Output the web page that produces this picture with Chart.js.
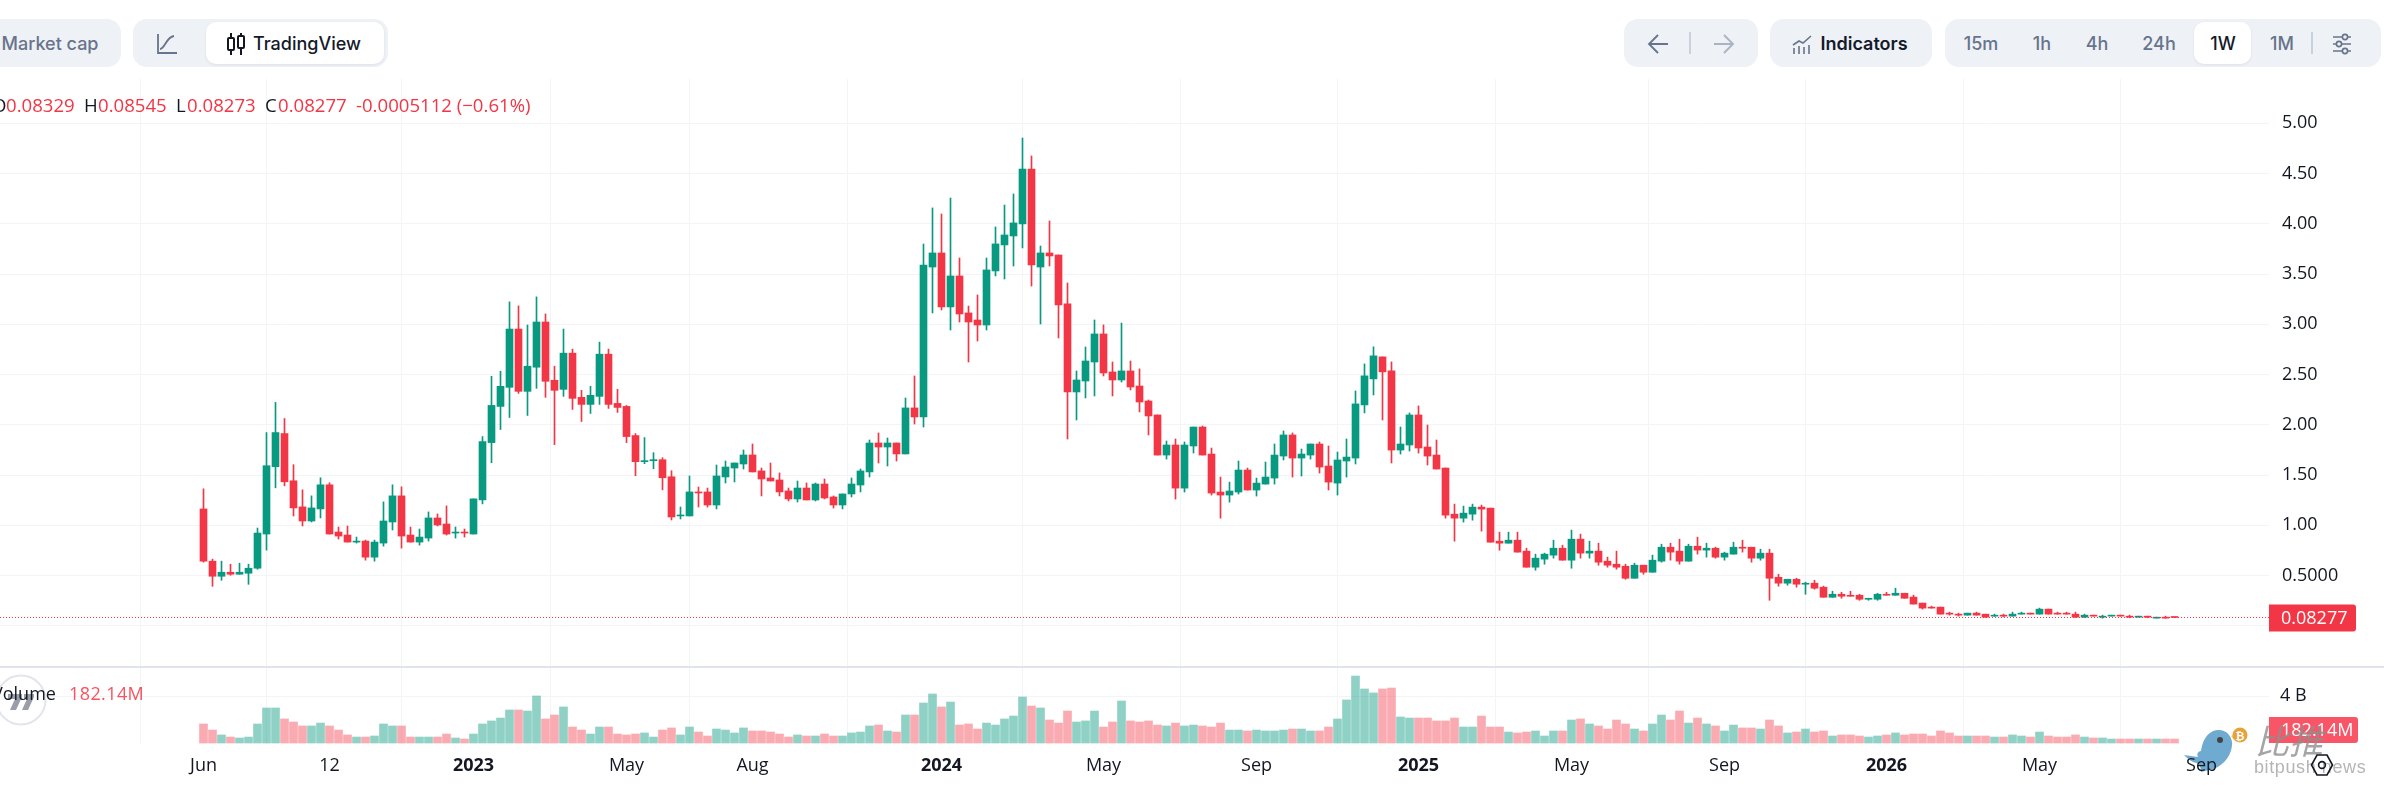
<!DOCTYPE html>
<html><head><meta charset="utf-8">
<script src="https://cdn.jsdelivr.net/npm/chart.js@4"></script>
<style>
html,body{margin:0;padding:0;background:#fff;width:2384px;height:795px;overflow:hidden}
#root{position:relative;width:2384px;height:795px;overflow:hidden;font-family:Inter,sans-serif}
.a{position:absolute}
canvas{position:absolute;left:0;display:block}
.grp{position:absolute;top:19px;height:48px;background:#eef1f5;border-radius:14px}
.wht{position:absolute;top:22px;height:42px;background:#fff;border-radius:10px;box-shadow:0 1px 3px rgba(30,40,60,.08)}
.btn{position:absolute;top:43px;transform:translate(-50%,-50%);font:500 18px Inter,sans-serif;color:#67748b;white-space:nowrap}
.leg{position:absolute;top:104px;transform:translateY(-50%);font:18.6px "Open Sans",sans-serif;white-space:nowrap;color:#f23645}
.k{color:#131722}
.div{position:absolute;top:32px;height:22px;width:2px;background:#c9d1dc}
</style></head><body><div id="root">
<svg class="a" style="left:2181px;top:722px" width="70" height="52" viewBox="0 0 70 52"><path d="M3 33l14 2c-2-4 1-6 3-6 2-14 9-21 18-21 7 0 12 5 13 12 1 12-9 26-23 28l-8 2c0-4-1-7-4-9-4 0-9-4-13-8z" fill="#6fabd0"/><circle cx="39" cy="18" r="3" fill="#444"/><path d="M50 14l6-3-3 7z" fill="#f2d34f"/><circle cx="59" cy="13" r="7.5" fill="#e9a13b"/><text x="59" y="17.5" font-size="11" font-weight="700" fill="#fff" text-anchor="middle" font-family="Liberation Sans">₿</text></svg>
<canvas id="priceCanvas" width="2384" height="587" style="top:79px;width:2384px;height:587px"></canvas>
<div class="a" style="left:0;top:666px;width:2384px;height:2px;background:#e0e3eb"></div>
<canvas id="volumeCanvas" width="2384" height="127" style="top:668px;width:2384px;height:127px"></canvas>

<div class="grp" style="left:-40px;width:161px"></div>
<div class="btn" style="left:50px">Market cap</div>
<div class="grp" style="left:133px;width:255px"></div>
<div class="wht" style="left:206px;width:178px"></div>
<svg class="a" style="left:155px;top:32px" width="24" height="24" viewBox="0 0 24 24" fill="none" stroke="#67748b" stroke-width="1.8"><path d="M3 2v19h19"/><path d="M5 17c5 0 6-12 14-13"/></svg>
<svg class="a" style="left:225px;top:32px" width="22" height="24" viewBox="0 0 22 24" fill="none" stroke="#131722" stroke-width="2"><path d="M6 1v5M6 18v5M16 1v3M16 16v7"/><rect x="3" y="6" width="6" height="12" rx="1"/><rect x="13" y="4" width="6" height="12" rx="1"/></svg>
<div class="btn" style="left:307px;color:#131a2b">TradingView</div>

<div class="grp" style="left:1624px;width:134px"></div>
<svg class="a" style="left:1647px;top:32px" width="24" height="24" viewBox="0 0 24 24" fill="none" stroke="#67748b" stroke-width="1.8"><path d="M21 12H3M11 3l-9 9 9 9"/></svg>
<div class="div" style="left:1689px"></div>
<svg class="a" style="left:1711px;top:32px" width="24" height="24" viewBox="0 0 24 24" fill="none" stroke="#aab3c2" stroke-width="1.8"><path d="M3 12h18M13 3l9 9-9 9"/></svg>
<div class="grp" style="left:1770px;width:162px"></div>
<svg class="a" style="left:1791px;top:32px" width="22" height="24" viewBox="0 0 22 24" fill="none" stroke="#67748b" stroke-width="1.6"><path d="M2 13l6-4 4 2 8-7"/><path d="M3 22v-6M8 22v-8M13 22v-7M18 22v-9"/></svg>
<div class="btn" style="left:1864px;font-weight:600;color:#131a2b">Indicators</div>
<div class="grp" style="left:1945px;width:436px"></div>
<div class="wht" style="left:2194px;width:57px"></div>
<div class="btn" style="left:1981px">15m</div>
<div class="btn" style="left:2042px">1h</div>
<div class="btn" style="left:2097px">4h</div>
<div class="btn" style="left:2159px">24h</div>
<div class="btn" style="left:2223px;color:#131a2b">1W</div>
<div class="btn" style="left:2282px">1M</div>
<div class="div" style="left:2311px"></div>
<svg class="a" style="left:2331px;top:32px" width="22" height="24" viewBox="0 0 22 24" fill="none" stroke="#67748b" stroke-width="1.6"><path d="M2 5h18M2 12h18M2 19h18"/><circle cx="14" cy="5" r="2.6" fill="#eef1f5"/><circle cx="8" cy="12" r="2.6" fill="#eef1f5"/><circle cx="14" cy="19" r="2.6" fill="#eef1f5"/></svg>

<div class="leg k" style="left:-8px">O</div>
<div class="leg" style="left:6px">0.08329</div>
<div class="leg k" style="left:84px">H</div>
<div class="leg" style="left:98px">0.08545</div>
<div class="leg k" style="left:176px">L</div>
<div class="leg" style="left:187px">0.08273</div>
<div class="leg k" style="left:265px">C</div>
<div class="leg" style="left:278px">0.08277</div>
<div class="leg" style="left:356px">-0.0005112 (−0.61%)</div>

<svg class="a" style="left:-4px;top:673px" width="54" height="54" viewBox="0 0 54 54"><circle cx="25" cy="27" r="24.5" fill="#fff" fill-opacity=".6" stroke="#e3e5ec" stroke-width="2"/><path d="M12 21h14v3l-6 13h-6l5-11h-7zM28 21h10v3l-6 13h-6l5-11h-3z" fill="#9a9ea8"/></svg>
<div class="leg k" style="left:-8px;top:693px;font-size:18px">Volume</div>
<div class="leg" style="left:69px;top:693px;color:#f7525f;letter-spacing:.4px;font-size:18px">182.14M</div>

<div class="a" style="left:2255px;top:719px;font:italic 34px 'Noto Sans CJK SC',sans-serif;color:#8f8f8f;opacity:.8;line-height:42px">比推</div>
<div class="a" style="left:2254px;top:757px;font:18px 'Liberation Sans',sans-serif;color:#a8a8a8;opacity:.85;letter-spacing:.6px;line-height:20px;white-space:nowrap">bitpush news</div>
<svg class="a" style="left:2310px;top:753px" width="24" height="24" viewBox="0 0 24 24" fill="none" stroke="#131722" stroke-width="1.6"><path d="M7 2h10l5.500 10L17 22H7L1.500 12z"/><circle cx="12" cy="12" r="3.400"/></svg>
</div>
<script>
const opens=[1.163,.643,.493,.533,.513,.523,.573,.913,1.583,1.913,
1.443,1.183,1.043,1.163,1.403,.933,.903,.833,.843,.683,
.823,1.033,1.293,.903,.833,.873,1.073,1.013,.923,.933,
.913,1.253,1.823,2.183,2.373,2.953,2.333,2.573,3.023,2.443,
2.353,2.713,2.273,2.203,2.283,2.703,2.213,2.183,1.893,1.633,
1.643,1.653,1.483,1.093,1.093,1.332,1.332,1.202,1.481,1.570,
1.610,1.700,1.541,1.471,1.451,1.342,1.262,1.371,1.252,1.411,
1.282,1.202,1.312,1.401,1.531,1.819,1.779,1.819,1.710,2.168,
2.078,3.570,3.710,3.173,3.481,3.113,3.043,2.993,3.531,3.790,
3.879,3.999,4.545,3.570,3.710,3.690,3.203,2.327,2.436,2.625,
2.904,2.526,2.446,2.536,2.386,2.237,2.098,1.699,1.799,1.370,
1.789,1.978,1.709,1.331,1.301,1.331,1.550,1.351,1.410,1.470,
1.689,1.899,1.669,1.699,1.809,1.590,1.420,1.640,1.669,2.198,
2.457,2.676,2.537,1.749,1.799,2.098,1.779,1.699,1.570,1.111,
1.071,1.111,1.181,1.171,.842,.822,.852,.743,.583,.663,
.703,.772,.653,.862,.723,.743,.643,.613,.593,.473,
.603,.533,.643,.782,.743,.643,.792,.753,.772,.683,
.713,.782,.782,.673,.723,.483,.424,.463,.414,.424,
.384,.284,.314,.304,.304,.264,.264,.314,.304,.324,
.286,.226,.186,.186,.126,.116,.106,.126,.116,.096,
.106,.096,.116,.126,.116,.166,.126,.126,.116,.086,
.106,.086,.096,.106,.096,.086,.096,.076,.086,.08329];
const closes=[.643,.493,.533,.513,.533,.573,.923,1.593,1.923,1.433,
1.173,1.043,1.173,1.403,.913,.893,.833,.843,.683,.833,
1.043,1.293,.893,.833,.883,1.073,1.003,.913,.933,.923,
1.263,1.833,2.193,2.383,2.953,2.333,2.583,3.023,2.433,2.343,
2.713,2.263,2.203,2.293,2.703,2.203,2.173,1.883,1.633,1.643,
1.653,1.473,1.083,1.103,1.332,1.322,1.202,1.491,1.580,1.620,
1.700,1.531,1.461,1.441,1.332,1.262,1.371,1.252,1.411,1.272,
1.202,1.312,1.411,1.541,1.819,1.779,1.819,1.710,2.168,2.078,
3.590,3.710,3.173,3.481,3.103,3.023,2.993,3.541,3.800,3.889,
4.009,4.545,3.590,3.710,3.680,3.193,2.327,2.446,2.635,2.904,
2.516,2.446,2.536,2.376,2.227,2.088,1.699,1.799,1.370,1.799,
1.978,1.699,1.321,1.301,1.341,1.550,1.351,1.420,1.480,1.699,
1.899,1.669,1.709,1.809,1.580,1.430,1.650,1.679,2.208,2.487,
2.686,2.527,1.749,1.809,2.098,1.769,1.689,1.560,1.101,1.071,
1.121,1.181,1.161,.832,.822,.852,.733,.583,.673,.713,
.772,.653,.862,.723,.743,.633,.603,.583,.473,.603,
.533,.653,.782,.733,.643,.792,.753,.772,.683,.723,
.782,.772,.673,.723,.473,.424,.463,.414,.424,.374,
.284,.314,.294,.294,.264,.274,.314,.304,.324,.274,
.216,.176,.176,.116,.116,.106,.126,.106,.086,.106,
.096,.116,.126,.116,.166,.116,.116,.116,.086,.106,
.096,.096,.106,.096,.086,.096,.086,.086,.076,.08277];
const highs=[1.363,.663,.643,.613,.623,.613,.973,1.923,2.223,2.063,
1.603,1.353,1.293,1.473,1.423,.983,.993,.883,.853,.853,
1.233,1.403,1.383,.983,.963,1.133,1.113,1.193,.983,.963,
1.263,1.883,2.483,2.533,3.223,3.183,2.993,3.273,3.103,2.583,
2.953,2.753,2.343,2.383,2.823,2.753,2.353,2.193,1.913,1.873,
1.723,1.673,1.543,1.182,1.491,1.381,1.371,1.600,1.640,1.620,
1.750,1.809,1.570,1.620,1.521,1.371,1.441,1.421,1.421,1.461,
1.292,1.312,1.471,1.560,1.849,1.919,1.869,1.819,2.267,2.486,
3.799,4.158,4.098,4.257,3.660,3.182,3.292,3.660,3.969,4.187,
4.297,4.854,4.675,3.779,4.028,3.690,3.411,2.536,2.774,3.043,
2.994,2.625,3.013,2.635,2.556,2.247,2.098,1.839,1.859,1.829,
1.978,1.988,1.769,1.480,1.430,1.640,1.570,1.470,1.630,1.809,
1.939,1.919,1.759,1.809,1.829,1.789,1.729,1.859,2.337,2.606,
2.776,2.676,2.626,1.978,2.118,2.188,1.998,1.849,1.570,1.211,
1.191,1.211,1.201,1.171,.932,.932,.932,.772,.713,.723,
.852,.802,.952,.912,.842,.822,.683,.743,.613,.623,
.603,.703,.812,.822,.862,.812,.882,.822,.782,.733,
.832,.852,.782,.762,.762,.513,.463,.473,.434,.453,
.394,.344,.334,.344,.314,.274,.324,.334,.374,.324,
.306,.226,.196,.186,.136,.126,.126,.136,.116,.116,
.116,.136,.136,.126,.176,.166,.136,.136,.136,.116,
.106,.106,.106,.106,.106,.096,.096,.086,.096,.08545];
const lows=[.633,.393,.453,.503,.513,.413,.563,.753,1.373,1.393,
1.093,.993,1.033,1.073,.913,.863,.833,.823,.653,.643,
.793,.953,.773,.833,.803,.843,.993,.903,.873,.883,
.913,1.213,1.623,1.953,2.073,2.313,2.093,2.363,2.273,1.803,
2.283,2.153,2.033,2.113,2.203,2.163,2.123,1.823,1.493,1.613,
1.563,1.353,1.053,1.063,1.093,1.182,1.182,1.163,1.421,1.431,
1.560,1.531,1.292,1.441,1.292,1.242,1.232,1.252,1.242,1.262,
1.172,1.163,1.282,1.332,1.481,1.620,1.590,1.640,1.710,2.008,
1.978,3.113,3.143,2.943,3.023,2.625,2.834,2.943,3.481,3.451,
3.580,3.760,3.381,3.003,3.580,2.864,1.859,2.048,2.267,2.287,
2.486,2.287,2.426,2.347,2.128,1.899,1.699,1.659,1.261,1.331,
1.719,1.699,1.301,1.071,1.231,1.311,1.351,1.291,1.410,1.410,
1.650,1.480,1.490,1.659,1.520,1.351,1.301,1.480,1.610,2.118,
2.297,2.048,1.620,1.709,1.739,1.719,1.600,1.560,1.071,.842,
1.032,1.051,.942,.832,.752,.822,.733,.583,.553,.613,
.673,.653,.573,.673,.673,.603,.583,.563,.463,.473,
.513,.533,.633,.653,.613,.643,.713,.683,.673,.653,
.713,.733,.633,.653,.254,.394,.404,.384,.314,.364,
.284,.284,.274,.294,.254,.254,.254,.304,.304,.274,
.216,.166,.176,.116,.106,.096,.106,.106,.083,.093,
.09,.096,.116,.116,.116,.116,.116,.116,.083,.083,
.096,.076,.096,.096,.08,.086,.08,.076,.076,.08273];
const volumes=[1.63,1.11,.69,.51,.43,.51,1.63,3.0,3.0,2.06,
1.8,1.46,1.46,1.71,1.46,1.11,.69,.51,.51,.6,
1.63,1.46,1.46,.51,.51,.51,.51,.77,.43,.34,
.77,1.63,1.89,2.14,2.83,2.83,2.74,4.03,2.06,2.4,
3.09,1.37,1.11,.77,1.37,1.37,.77,.69,.77,.86,
.51,1.11,1.29,.69,1.37,.94,.6,1.2,1.11,.86,
1.29,1.03,1.03,.94,.77,.51,.69,.6,.6,.77,
.6,.6,.86,.94,1.46,1.54,1.03,.94,2.4,2.4,
3.43,4.2,3.09,3.51,1.54,1.63,1.2,1.71,1.54,2.06,
2.31,3.94,3.17,3.0,1.97,1.71,2.74,1.8,1.89,2.74,
1.37,1.8,3.6,1.89,1.8,1.89,1.54,1.46,1.71,1.46,
1.54,1.46,1.37,1.71,1.11,1.11,1.03,1.11,1.03,1.03,
1.11,1.2,1.2,1.03,1.03,1.37,2.06,3.69,5.74,4.63,
4.29,4.63,4.71,2.23,2.14,2.14,2.14,1.89,1.89,2.14,
1.37,1.37,2.31,1.37,1.37,.94,.86,.94,1.03,.6,
1.03,1.03,1.97,2.06,1.63,1.46,1.2,1.97,1.63,1.2,
1.03,1.63,2.4,1.97,2.74,1.71,2.14,1.63,1.46,1.03,
1.54,1.29,1.29,1.2,1.97,1.46,.86,.94,1.2,.94,
1.03,.6,.69,.69,.6,.51,.6,.69,.86,.69,
.77,.77,.6,1.03,.86,.6,.6,.6,.6,.51,
.51,.69,.6,.51,.94,.6,.51,.51,.69,.51,
.43,.43,.34,.34,.34,.34,.34,.34,.34,.34];
const timeTickWeeks=[0,14,30,47,61,82,100,117,135,152,169,187,204,222];
const timeTickLabels=["Jun","12","2023","May","Aug","2024","May","Sep","2025","May","Sep","2026","May","Sep"];
const priceTicks=[0,0.5,1,1.5,2,2.5,3,3.5,4,4.5,5];
const priceTickLabels=["0.0000","0.5000","1.00","1.50","2.00","2.50","3.00","3.50","4.00","4.50","5.00"];
const volumeTicks=[4];
const volumeTickLabels=["4 B"];
const lastCloseLabel="0.08277";
const lastVolumeLabel="182.14M";

const GREEN='#089981',RED='#f23645',GRID='#f3f4f6',INK='#131722';
const FONT='"Open Sans",sans-serif';
const AXIS_X=2269, FIRST_X=203.5, STEP=9;
const xMin=-FIRST_X/STEP, xMax=(AXIS_X-FIRST_X)/STEP;
const up=i=>closes[i]>=opens[i];
const noPad=s=>{s.paddingTop=0;s.paddingBottom=0;s.paddingLeft=0;s.paddingRight=0;};
const xScale=(h,extra)=>Object.assign({type:'linear',min:xMin,max:xMax,offset:false,bounds:'data',
  border:{display:false},grid:{color:GRID,lineWidth:1,drawTicks:false},
  afterBuildTicks:s=>{s.ticks=timeTickWeeks.map(v=>({value:v}));},
  afterFit:s=>{s.height=h;noPad(s);}},extra);
const yScale=(min,max,vals,labels,pad)=>({position:'right',min,max,bounds:'data',
  border:{display:false},grid:{color:GRID,lineWidth:1,drawTicks:false},
  afterBuildTicks:s=>{s.ticks=vals.map(v=>({value:v}));},
  afterFit:s=>{s.width=2384-AXIS_X;noPad(s);},
  ticks:{padding:pad,autoSkip:false,color:INK,font:{family:FONT,size:18},
    callback:v=>labels[vals.indexOf(v)]}});
function tag(ctx,y0,y1,text,fill,x1){
  ctx.save();ctx.fillStyle=fill;ctx.beginPath();
  ctx.roundRect(AXIS_X,y0,x1-AXIS_X,y1-y0,[0,3,3,0]);ctx.fill();
  ctx.fillStyle='#fff';ctx.font='18px '+FONT;ctx.textAlign='left';ctx.textBaseline='middle';
  ctx.fillText(text,AXIS_X+12,(y0+y1)/2+0.5);ctx.restore();
}
const lastLine={id:'lastLine',
  afterDraw(c){
    const y=Math.round(c.scales.y.getPixelForValue(closes[closes.length-1]))+0.5,ctx=c.ctx;
    ctx.save();ctx.strokeStyle=RED;ctx.lineWidth=1;ctx.setLineDash([1,2]);
    ctx.beginPath();ctx.moveTo(0,y);ctx.lineTo(AXIS_X,y);ctx.stroke();ctx.restore();
    tag(ctx,y-13,y+14,lastCloseLabel,RED,2356);
  }};
const volumeTag={id:'volumeTag',afterDraw(c){tag(c.ctx,49,75,lastVolumeLabel,'#fa5566',2358);}};
const base={animation:false,responsive:false,devicePixelRatio:1,events:[],
  layout:{autoPadding:false,padding:0},plugins:{legend:{display:false},tooltip:{enabled:false}}};

new Chart(document.getElementById('priceCanvas'),{type:'bar',
  data:{datasets:[
    {data:opens.map((o,i)=>({x:i,y:[lows[i],highs[i]]})),barThickness:1,grouped:false,borderWidth:0,
     backgroundColor:opens.map((o,i)=>up(i)?GREEN:RED),order:2},
    {data:opens.map((o,i)=>({x:i,y:[Math.min(o,closes[i]),Math.max(o,closes[i])]})),barThickness:7,grouped:false,borderWidth:0,minBarLength:1,
     backgroundColor:opens.map((o,i)=>up(i)?GREEN:RED),order:1}]},
  options:Object.assign({},base,{scales:{
    x:xScale(0,{ticks:{display:false,autoSkip:false}}),
    y:yScale(-0.400,5.441,priceTicks,priceTickLabels,13)}}),
  plugins:[lastLine]});

new Chart(document.getElementById('volumeCanvas'),{type:'bar',
  data:{datasets:[{data:volumes.map((v,i)=>({x:i,y:v})),barThickness:8,borderWidth:0,
    backgroundColor:volumes.map((v,i)=>up(i)?'rgba(8,153,129,.45)':'rgba(242,54,69,.42)')}]},
  options:Object.assign({},base,{scales:{
    x:xScale(51,{ticks:{padding:11,autoSkip:false,maxRotation:0,color:INK,
      font:c=>({family:FONT,size:18,weight:/^\d{4}$/.test(c.tick&&c.tick.label)?'700':'400'}),
      callback:v=>timeTickLabels[timeTickWeeks.indexOf(v)]}}),
    y:yScale(-0.0857,6.427,volumeTicks,volumeTickLabels,11)}}),
  plugins:[volumeTag]});
</script></body></html>
